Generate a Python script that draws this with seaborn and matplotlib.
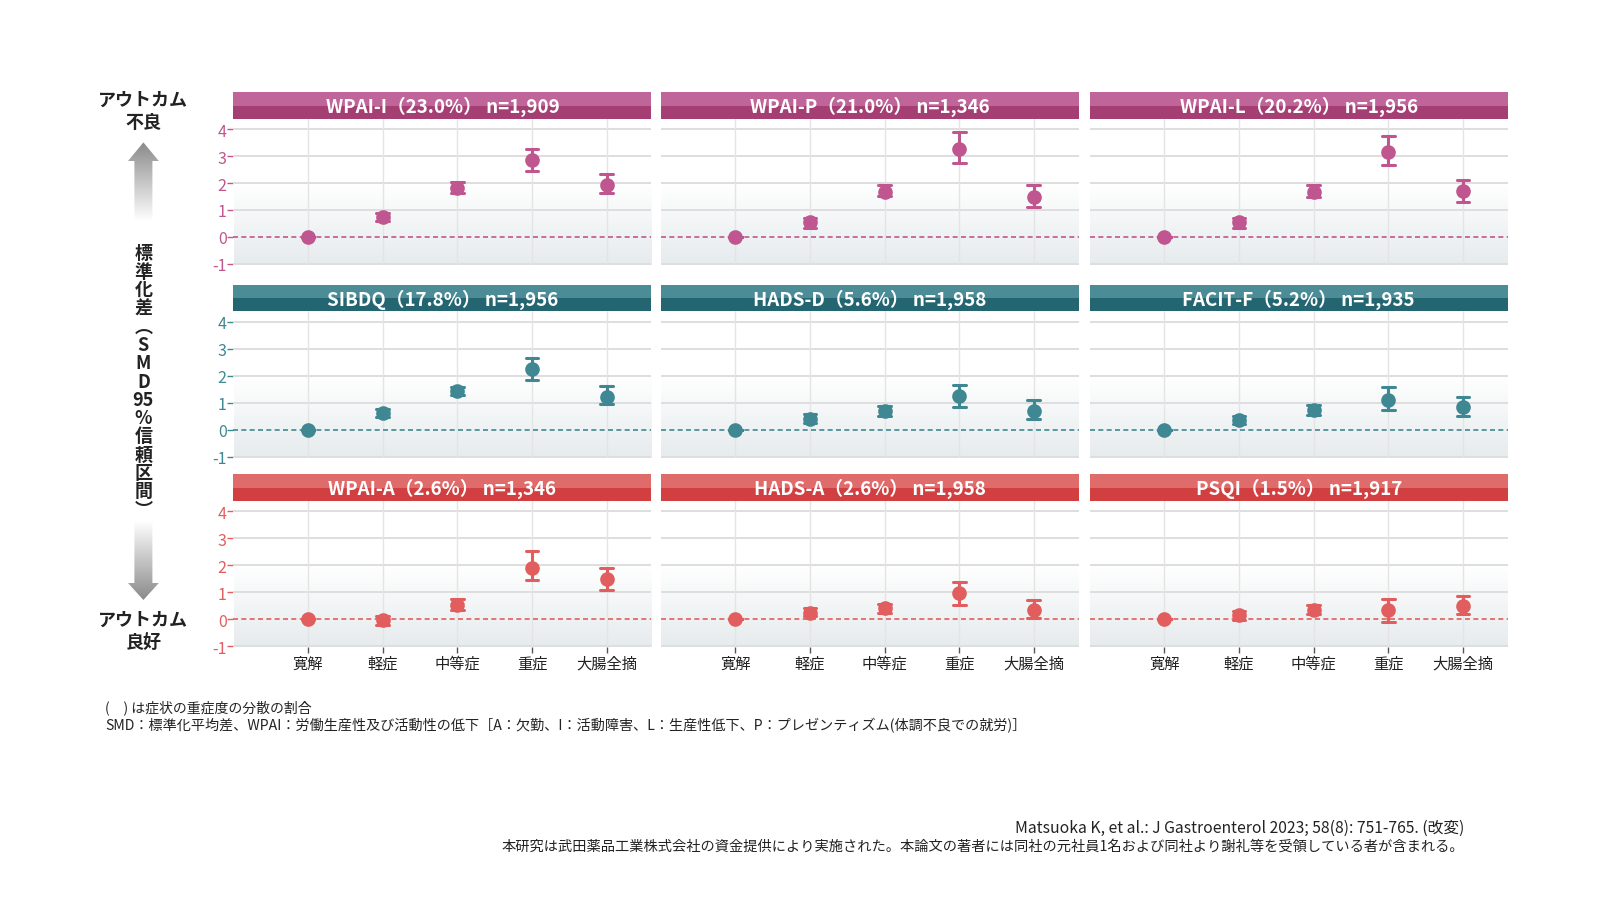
import numpy as np
import pandas as pd
import matplotlib
matplotlib.use('Agg')
import matplotlib.pyplot as plt
import seaborn as sns
from matplotlib.patches import Polygon, Rectangle
from matplotlib.colors import to_rgb

# categories and panel titles
categories = ['寛解', '軽症', '中等症', '重症', '大腸全摘']
titles = ['WPAI-I（23.0%） n=1,909', 'WPAI-P（21.0%） n=1,346', 'WPAI-L（20.2%） n=1,956',
          'SIBDQ（17.8%） n=1,956', 'HADS-D（5.6%） n=1,958', 'FACIT-F（5.2%） n=1,935',
          'WPAI-A（2.6%） n=1,346', 'HADS-A（2.6%） n=1,958', 'PSQI（1.5%） n=1,917']

# SMD estimate / lower / upper 95% CI
wpai_i_est = [0, 0.75, 1.80, 2.85, 1.94]
wpai_i_lo = [0, 0.60, 1.62, 2.44, 1.64]
wpai_i_hi = [0, 0.87, 2.05, 3.26, 2.35]

wpai_p_est = [0, 0.54, 1.66, 3.26, 1.48]
wpai_p_lo = [0, 0.35, 1.51, 2.73, 1.11]
wpai_p_hi = [0, 0.71, 1.91, 3.88, 1.91]

wpai_l_est = [0, 0.54, 1.66, 3.16, 1.69]
wpai_l_lo = [0, 0.35, 1.49, 2.66, 1.31]
wpai_l_hi = [0, 0.71, 1.91, 3.76, 2.12]

sibdq_est = [0, 0.60, 1.42, 2.23, 1.22]
sibdq_lo = [0, 0.45, 1.28, 1.83, 0.93]
sibdq_hi = [0, 0.75, 1.58, 2.66, 1.63]

hads_d_est = [0, 0.41, 0.70, 1.26, 0.70]
hads_d_lo = [0, 0.26, 0.51, 0.82, 0.41]
hads_d_hi = [0, 0.57, 0.89, 1.67, 1.11]

facit_f_est = [0, 0.36, 0.73, 1.10, 0.82]
facit_f_lo = [0, 0.20, 0.54, 0.71, 0.51]
facit_f_hi = [0, 0.51, 0.92, 1.56, 1.20]

wpai_a_est = [0, -0.05, 0.54, 1.91, 1.47]
wpai_a_lo = [0, -0.21, 0.32, 1.45, 1.08]
wpai_a_hi = [0, 0.10, 0.75, 2.52, 1.90]

hads_a_est = [0, 0.24, 0.40, 0.95, 0.35]
hads_a_lo = [0, 0.10, 0.22, 0.52, 0.04]
hads_a_hi = [0, 0.41, 0.57, 1.36, 0.72]

psqi_est = [0, 0.14, 0.35, 0.32, 0.47]
psqi_lo = [0, -0.02, 0.17, -0.10, 0.17]
psqi_hi = [0, 0.30, 0.51, 0.75, 0.85]

yticks = [-1, 0, 1, 2, 3, 4]

series = [(wpai_i_est, wpai_i_lo, wpai_i_hi), (wpai_p_est, wpai_p_lo, wpai_p_hi),
          (wpai_l_est, wpai_l_lo, wpai_l_hi), (sibdq_est, sibdq_lo, sibdq_hi),
          (hads_d_est, hads_d_lo, hads_d_hi), (facit_f_est, facit_f_lo, facit_f_hi),
          (wpai_a_est, wpai_a_lo, wpai_a_hi), (hads_a_est, hads_a_lo, hads_a_hi),
          (psqi_est, psqi_lo, psqi_hi)]

# row colours: (marker, strip light, strip dark)
row_colors = [('#c0568f', '#c0659a', '#a53f73'),
              ('#3f8893', '#4b8c96', '#236571'),
              ('#e25e5e', '#e06b6b', '#d23f40')]

sns.set_style('white')
plt.rcParams['font.family'] = ['Noto Sans CJK JP', 'DejaVu Sans']
plt.rcParams['axes.unicode_minus'] = False

W, H = 1606, 903
fig = plt.figure(figsize=(W / 100, H / 100), dpi=100)

# overlay for free text and arrows, pixel coords
ov = fig.add_axes([0, 0, 1, 1])
ov.set_xlim(0, W)
ov.set_ylim(H, 0)
ov.axis('off')
ov.patch.set_alpha(0)

col_left = [233.5, 660.6, 1089.7]
col_w = 418
row_top = [119.8, 312.4, 501.9]
ax_h = 146.5
strip_h = 26.6
ymin, ymax = -1.05, 4.38
xmin, xmax = -1.0, 4.6

# background gradient (white above 2, bluish grey toward bottom)
gy = np.linspace(ymax, ymin, 200)
t = np.clip((2.0 - gy) / (2.0 - ymin), 0, 1)[:, None]
top_c = np.array(to_rgb('#ffffff'))
bot_c = np.array(to_rgb('#e6ebed'))
grad = (top_c * (1 - t) + bot_c * t)[:, None, :]

for i, (est, lo, hi) in enumerate(series):
    r, c = divmod(i, 3)
    mcol, light, dark = row_colors[r]
    l, top = col_left[c], row_top[r]
    ax = fig.add_axes([l / W, 1 - (top + ax_h) / H, col_w / W, ax_h / H])

    df = pd.DataFrame({
        'cat': np.repeat(categories, 3),
        'val': np.column_stack([lo, est, hi]).ravel(),
    })
    sns.pointplot(data=df, x='cat', y='val', order=categories, estimator='median',
                  errorbar=('pi', 100), capsize=0.17, color=mcol, linestyle='none',
                  markersize=8.5, err_kws={'linewidth': 2.2}, ax=ax, zorder=5)

    ax.imshow(grad, extent=(xmin, xmax, ymin, ymax), aspect='auto', zorder=-2,
              interpolation='bicubic')
    ax.axhline(0, color=mcol, lw=1.2, ls=(0, (3, 2)), zorder=3)
    for yv in yticks:
        if yv != 0:
            ax.axhline(yv, color='#dedede', lw=1.4, zorder=1)
    for xv in range(len(categories)):
        ax.axvline(xv, color='#e4e4e4', lw=1.0, zorder=1)

    ax.set_xlim(xmin, xmax)
    ax.set_ylim(ymin, ymax)
    ax.set_xlabel('')
    ax.set_ylabel('')
    for s in ax.spines.values():
        s.set_visible(False)

    ax.set_yticks(yticks)
    if c == 0:
        ax.tick_params(axis='y', length=4, width=1, color=mcol, labelcolor=mcol,
                       labelsize=11.5, pad=1, left=True)
    else:
        ax.tick_params(axis='y', left=False, labelleft=False)
    if r == 2:
        ax.tick_params(axis='x', length=4, width=1, color='#555555', labelcolor='#222222',
                       labelsize=11, pad=1, bottom=True)
    else:
        ax.tick_params(axis='x', bottom=False, labelbottom=False)

    # title strip
    sx = fig.add_axes([l / W, 1 - top / H, col_w / W, strip_h / H])
    sx.set_xlim(0, 1)
    sx.set_ylim(0, 1)
    sx.axis('off')
    sx.add_patch(Rectangle((0, 0.5), 1, 0.5, color=light, lw=0))
    sx.add_patch(Rectangle((0, 0), 1, 0.5, color=dark, lw=0))
    sx.text(0.5, 0.48, titles[i], color='white', ha='center', va='center',
            fontsize=13.5, fontweight='bold')


def grad_arrow(pts, y_dark, y_light):
    poly = Polygon(pts, closed=True, facecolor='none', edgecolor='none')
    ov.add_patch(poly)
    ys = np.linspace(0, 1, 100)[:, None]
    g = np.array(to_rgb('#8a8a8a')) * (1 - ys) + np.array(to_rgb('#ffffff')) * ys
    xs = [p[0] for p in pts]
    if y_dark < y_light:
        ext = (min(xs), max(xs), y_light, y_dark)
        img = g[:, None, :]
    else:
        ext = (min(xs), max(xs), y_dark, y_light)
        img = g[::-1, None, :]
    im = ov.imshow(img, extent=ext, aspect='auto', interpolation='bicubic')
    im.set_clip_path(poly)


cx = 143.4
grad_arrow([(cx, 143.4), (cx + 15.4, 162), (cx + 9, 162), (cx + 9, 222),
            (cx - 9, 222), (cx - 9, 162), (cx - 15.4, 162)], 143.4, 222)
grad_arrow([(cx - 9, 522), (cx + 9, 522), (cx + 9, 584), (cx + 15.4, 584),
            (cx, 601), (cx - 15.4, 584), (cx - 9, 584)], 601, 522)
ov.set_xlim(0, W)
ov.set_ylim(H, 0)

lab_kw = dict(ha='center', va='center', fontsize=13, fontweight='bold', color='#222222')
ov.text(cx, 100.5, 'アウトカム', **lab_kw)
ov.text(cx, 122.5, '不良', **lab_kw)
ov.text(cx, 620.5, 'アウトカム', **lab_kw)
ov.text(cx, 642, '良好', **lab_kw)

vchars = ['標', '準', '化', '差', '︵', 'S', 'M', 'D', '95', '%', '信', '頼', '区', '間', '︶']
for k, ch in enumerate(vchars):
    ov.text(cx, 254 + k * 18.3, ch, ha='center', va='center', fontsize=13,
            fontweight='bold', color='#222222')

ov.text(105.5, 707.5, '(\u3000) は症状の重症度の分散の割合', ha='left', va='center',
        fontsize=10, color='#222222')
ov.text(105.5, 726, 'SMD：標準化平均差、WPAI：労働生産性及び活動性の低下［A：欠勤、I：活動障害、L：生産性低下、P：プレゼンティズム(体調不良での就労)］',
        ha='left', va='center', fontsize=10.15, color='#222222')
ov.text(1464.6, 828.5, 'Matsuoka K, et al.: J Gastroenterol 2023; 58(8): 751-765. (改変)',
        ha='right', va='center', fontsize=11.3, color='#222222')
ov.text(1464.6, 847, '本研究は武田薬品工業株式会社の資金提供により実施された。本論文の著者には同社の元社員1名および同社より謝礼等を受領している者が含まれる。',
        ha='right', va='center', fontsize=10.25, color='#222222')

fig.savefig('out.png', dpi=100, facecolor='white')
